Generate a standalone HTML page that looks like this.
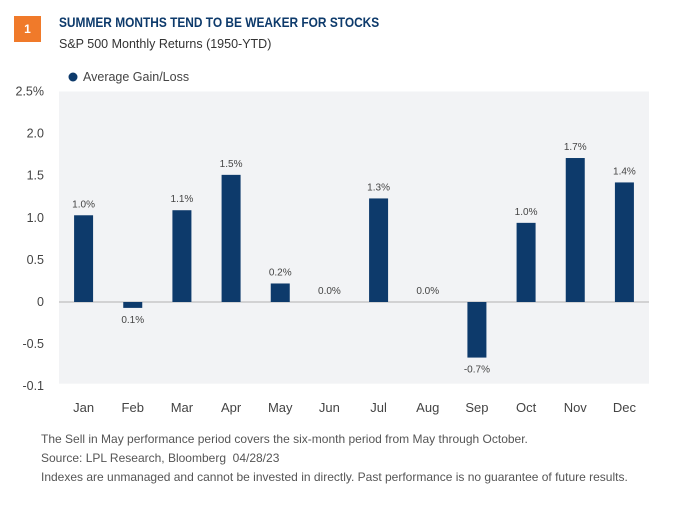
<!DOCTYPE html>
<html><head><meta charset="utf-8"><style>
body{margin:0;background:#fff;font-family:"Liberation Sans",sans-serif;}
.wrap{position:relative;width:680px;height:509px;overflow:hidden;}
</style></head><body>
<div class="wrap">
<div style="position:absolute;left:14px;top:16px;width:27px;height:26px;background:#f07a2a;color:#fff;font-weight:bold;font-size:12px;text-align:center;line-height:26px;">1</div>
<div style="position:absolute;left:59px;top:14px;font-size:14px;font-weight:bold;color:#0d3a6b;white-space:nowrap;transform:scaleX(0.85);transform-origin:0 0;">SUMMER MONTHS TEND TO BE WEAKER FOR STOCKS</div>
<div style="position:absolute;left:59px;top:37px;font-size:12.5px;color:#333;">S&amp;P 500 Monthly Returns (1950-YTD)</div>
<svg id="chart" width="680" height="509" style="position:absolute;left:0;top:0"></svg>
<div style="position:absolute;left:41px;top:430px;font-size:12px;color:#555;line-height:19px;">The Sell in May performance period covers the six-month period from May through October.<br>Source: LPL Research, Bloomberg &nbsp;04/28/23<br>Indexes are unmanaged and cannot be invested in directly. Past performance is no guarantee of future results.</div>
</div>
<script>
const months=["Jan","Feb","Mar","Apr","May","Jun","Jul","Aug","Sep","Oct","Nov","Dec"];
const values=[1.03,-0.07,1.09,1.51,0.22,0.0,1.23,0.0,-0.66,0.94,1.71,1.42];
const valueLabels=["1.0%","0.1%","1.1%","1.5%","0.2%","0.0%","1.3%","0.0%","-0.7%","1.0%","1.7%","1.4%"];
const yTicks=[2.5,2.0,1.5,1.0,0.5,0,-0.5,-1];
const yTickLabels=["2.5%","2.0","1.5","1.0","0.5","0","-0.5","-0.1"];
const NS="http://www.w3.org/2000/svg";
const svg=document.getElementById('chart');
const x0=59,x1=649,band=(x1-x0)/months.length;
const y=v=>302-v*84.2;
const xc=i=>x0+band*(i+0.5);
function mk(t,a){const e=document.createElementNS(NS,t);for(const k in a)e.setAttribute(k,a[k]);svg.appendChild(e);return e;}
const bg=mk('rect',{x:x0,y:y(2.5),width:x1-x0,height:y(-0.97)-y(2.5),fill:'#f2f3f5'});


const zl=mk('line',{x1:x0,x2:x1,y1:y(0),y2:y(0),stroke:'#c8c8c8','stroke-width':1.5});


yTicks.forEach((v,i)=>{const t=mk('text',{x:44,y:y(v)+4,'text-anchor':'end','font-size':12.5,fill:'#444'});t.textContent=yTickLabels[i];

});
months.forEach((m,i)=>{
const v=values[i],top=Math.min(y(v),y(0)),h=Math.abs(y(v)-y(0));
const r=mk('rect',{x:xc(i)-9.5,y:top,width:19,height:h,fill:'#0d3a6b'});


const ly=v>=0?y(v)-8:y(v)+15;
const l=mk('text',{x:xc(i),y:ly,'text-anchor':'middle','font-size':10,fill:'#444'});l.textContent=valueLabels[i];


const t=mk('text',{x:xc(i),y:412,'text-anchor':'middle','font-size':13,fill:'#444'});t.textContent=m;


});
const c=mk('circle',{cx:73,cy:77,r:4.5,fill:'#0d3a6b'});


const lt=mk('text',{x:83,y:81,'font-size':12.5,fill:'#444'});lt.textContent='Average Gain/Loss';


</script>
</body></html>
